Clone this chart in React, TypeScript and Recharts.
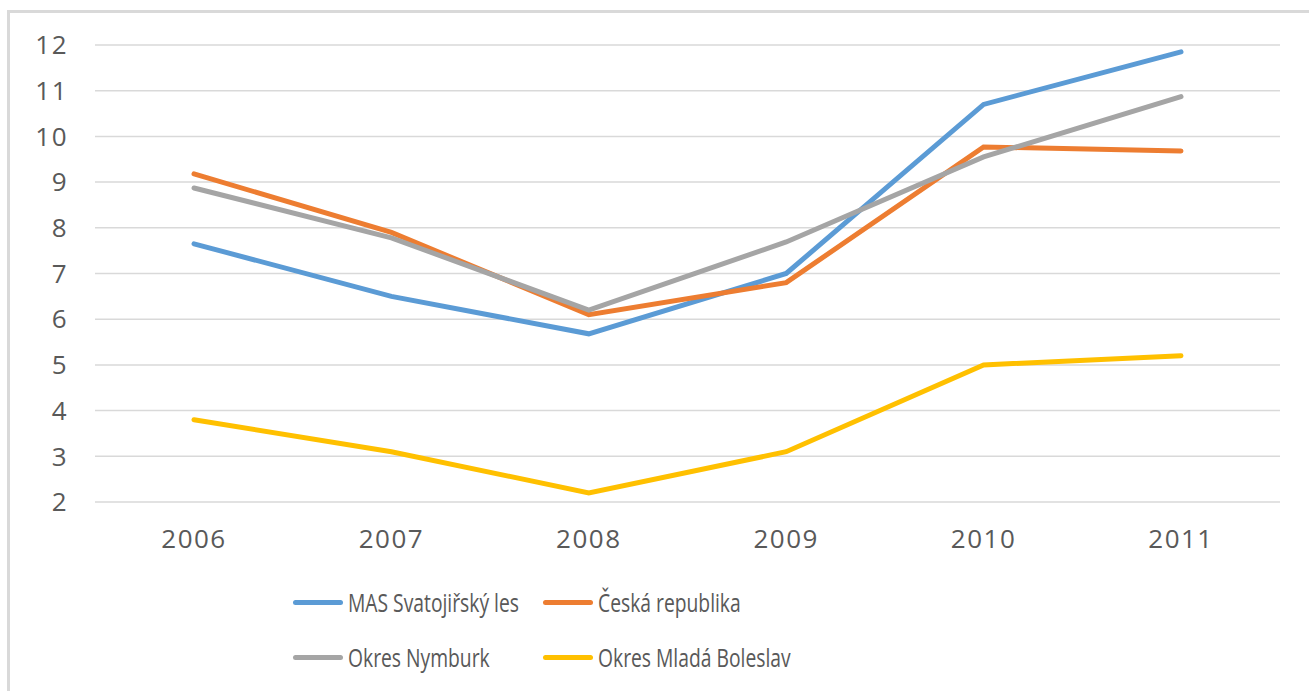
import React from 'react';
import { LineChart, Line, XAxis, YAxis, CartesianGrid, Legend } from 'recharts';

const years = ['2006', '2007', '2008', '2009', '2010', '2011'];
const masSvatojirsky = [7.65, 6.5, 5.68, 7.0, 10.7, 11.85];
const ceskaRepublika = [9.18, 7.9, 6.1, 6.8, 9.77, 9.68];
const okresNymburk = [8.87, 7.78, 6.2, 7.69, 9.55, 10.87];
const okresMladaBoleslav = [3.8, 3.1, 2.2, 3.1, 5.0, 5.2];
const yTicks = [2, 3, 4, 5, 6, 7, 8, 9, 10, 11, 12];

const series = [
  { key: 'mas', name: 'MAS Svatojiřský les', values: masSvatojirsky, color: '#5B9BD5' },
  { key: 'cr', name: 'Česká republika', values: ceskaRepublika, color: '#ED7D31' },
  { key: 'nymburk', name: 'Okres Nymburk', values: okresNymburk, color: '#A5A5A5' },
  { key: 'mb', name: 'Okres Mladá Boleslav', values: okresMladaBoleslav, color: '#FFC000' },
];

const data = years.map((year, i) => {
  const row: Record<string, string | number> = { year };
  series.forEach((s) => {
    row[s.key] = s.values[i];
  });
  return row;
});

const tickStyle = { fill: '#595959', fontSize: 26, fontFamily: '"Open Sans", sans-serif', letterSpacing: 1.5 };

const renderLegend = () => (
  <div
    style={{
      display: 'grid',
      gridTemplateColumns: '250px 260px',
      rowGap: 23,
      fontFamily: '"Open Sans", sans-serif',
      fontSize: 19.3,
      color: '#595959',
      whiteSpace: 'nowrap',
    }}
  >
    {series.map((s) => (
      <div key={s.key} style={{ display: 'flex', alignItems: 'center', height: 32 }}>
        <span
          style={{
            display: 'inline-block',
            width: 50,
            height: 5,
            borderRadius: 3,
            background: s.color,
            marginRight: 5,
          }}
        />
        <span style={{ display: 'inline-block', transform: 'scaleY(1.28)' }}>{s.name}</span>
      </div>
    ))}
  </div>
);

export default function App() {
  return (
    <div
      style={{
        position: 'fixed',
        left: 0,
        top: 0,
        width: 1309,
        height: 691,
        overflow: 'hidden',
        background: '#ffffff',
      }}
    >
      <div
        style={{
          position: 'absolute',
          left: 7,
          top: 10,
          width: 1400,
          height: 800,
          borderLeft: '3px solid #d9d9d9',
          borderTop: '3px solid #d9d9d9',
        }}
      />
      <div style={{ position: 'absolute', left: 0, top: 0 }}>
        <LineChart
          width={1309}
          height={691}
          data={data}
          margin={{ top: 45, right: 29, left: 0, bottom: 159 }}
        >
          <CartesianGrid vertical={false} stroke="#d9d9d9" strokeWidth={1.5} />
          <XAxis
            dataKey="year"
            axisLine={false}
            tickLine={false}
            tickSize={0}
            tickMargin={28}
            height={30}
            padding={{ left: 99, right: 99 }}
            tick={tickStyle}
          />
          <YAxis
            domain={[2, 12]}
            ticks={yTicks}
            interval={0}
            axisLine={false}
            tickLine={false}
            tickSize={0}
            tickMargin={27}
            width={95}
            tick={tickStyle}
          />
          <Legend
            layout="horizontal"
            verticalAlign="middle"
            align="center"
            content={renderLegend}
            wrapperStyle={{ left: 293, top: 586, width: 560 }}
          />
          {series.map((s) => (
            <Line
              key={s.key}
              type="linear"
              dataKey={s.key}
              name={s.name}
              stroke={s.color}
              strokeWidth={5}
              strokeLinecap="round"
              dot={false}
              activeDot={false}
              isAnimationActive={false}
            />
          ))}
        </LineChart>
      </div>
    </div>
  );
}
